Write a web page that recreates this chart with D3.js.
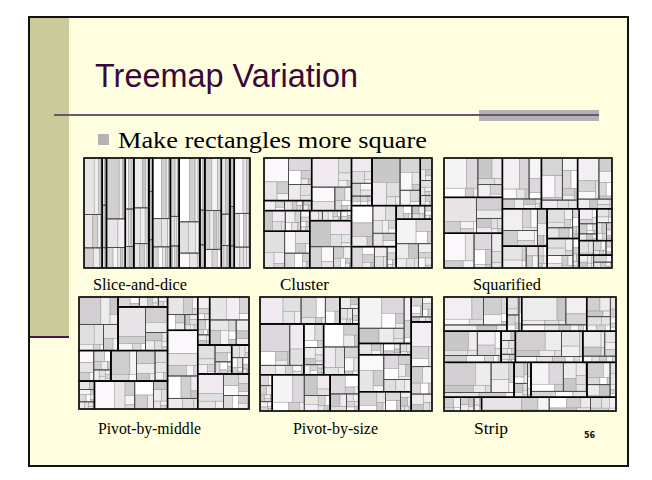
<!DOCTYPE html>
<html><head><meta charset="utf-8">
<script src="https://cdn.jsdelivr.net/npm/d3@7"></script>
<style>html,body{margin:0;padding:0;background:#fff;}svg{display:block;}</style>
</head><body>
<svg id="c" width="652" height="480"></svg>
<script>
// ---- data ----
const titleText = "Treemap Variation";
const bulletText = "Make rectangles more square";
const pageNumber = "56";
const panelNames = ["Slice-and-dice","Cluster","Squarified","Pivot-by-middle","Pivot-by-size","Strip"];
// three-level hierarchy: groups -> subgroups -> leaf sizes
const treeData = [
 [[60,25,14,8],[30,18,9,4,2],[20,12,6]],
 [[12,6,3],[8,5,3,2,1],[4,3,2]],
 [[80,20,10,6,3],[34,22],[14,9,7,5,3,2]],
 [[18,14,9,4],[12,7,6,5,3],[6,4,3,2,2,1,1]],
 [[45,16,12,5],[24,18,10,4],[15,12,6,3,2]],
 [[9,4],[6,5,3,2,2,1],[4,3,2,1,1]],
 [[55,30,14,9,4],[26,18,8],[12,9,7,5,3,2,1]],
 [[28,16,6,3],[12,8,7],[5,4,4,3,2,2]],
 [[70,35,20,8,4],[30,22,10,5],[16,12,4]],
 [[14,6,4,3],[8,4,3,2,1],[5,4,2,1]],
 [[38,30,16,6],[20,16,12,8,6,4],[14,10,8]],
 [[24,10,9,5,2],[13,11,4],[6,6,3,2,2,1]],
 [[10,7,3,2],[6,5,4,2,1],[4,3,2,1]],
 [[50,20,14,6],[18,15,10,8,4],[12,8,7,5,2]]
];
const leafShades = ["#e6e6e6","#f3eef3","#d6d6d6","#fbf8fb","#e8e4e8","#cfcfcf","#f4f4f4","#ddd8dd","#ffffff","#d2ced2","#ececec","#c8c8c8","#f0eaf0","#e0e0e0"];

// ---- custom tilings ----
const sumV = a => a.reduce((s,d)=>s+d.value,0);
function place(n,x0,y0,x1,y1){n.x0=x0;n.y0=y0;n.x1=x1;n.y1=y1;}
function pivotLayout(nodes,x0,y0,x1,y1,bySize){
  const n=nodes.length; if(!n) return;
  if(n===1){place(nodes[0],x0,y0,x1,y1);return;}
  const total=sumV(nodes);
  let p = Math.floor(n/2);
  if(bySize){p=0;nodes.forEach((d,i)=>{if(d.value>nodes[p].value)p=i;});}
  const L1=nodes.slice(0,p), P=nodes[p], rest=nodes.slice(p+1);
  const W=x1-x0,H=y1-y0,horiz=W>=H;
  const s1=sumV(L1);
  let rx0=x0, ry0=y0;
  if(horiz){rx0=x0+W*s1/total;pivotLayout(L1,x0,y0,rx0,y1,bySize);}
  else{ry0=y0+H*s1/total;pivotLayout(L1,x0,y0,x1,ry0,bySize);}
  const rt=total-s1, RW=x1-rx0, RH=y1-ry0;
  let bestK=0,bestA=Infinity;
  for(let k=0;k<=rest.length;k++){
    const sB=sumV(rest.slice(0,k)), frac=(P.value+sB)/rt;
    let a;
    if(horiz){const cw=RW*frac, ph=RH*P.value/(P.value+sB); a=Math.max(cw/ph,ph/cw);}
    else{const rh=RH*frac, pw=RW*P.value/(P.value+sB); a=Math.max(rh/pw,pw/rh);}
    if(a<bestA){bestA=a;bestK=k;}
  }
  const B=rest.slice(0,bestK), C=rest.slice(bestK), sB=sumV(B), frac=(P.value+sB)/rt;
  if(horiz){
    const cx=rx0+RW*frac, py=ry0+RH*P.value/(P.value+sB);
    place(P,rx0,ry0,cx,py); pivotLayout(B,rx0,py,cx,y1,bySize); pivotLayout(C,cx,ry0,x1,y1,bySize);
  } else {
    const cy=ry0+RH*frac, px=rx0+RW*P.value/(P.value+sB);
    place(P,rx0,ry0,px,cy); pivotLayout(B,px,ry0,x1,cy,bySize); pivotLayout(C,rx0,cy,x1,y1,bySize);
  }
}
const pivotMiddle=(parent,x0,y0,x1,y1)=>pivotLayout(parent.children,x0,y0,x1,y1,false);
const pivotSize=(parent,x0,y0,x1,y1)=>pivotLayout(parent.children,x0,y0,x1,y1,true);
function stripTile(parent,x0,y0,x1,y1){
  const nodes=parent.children,n=nodes.length,total=parent.value;
  const W=x1-x0,H=y1-y0,horiz=W>=H;
  const L=horiz?W:H, T=horiz?H:W;
  const avg=row=>{const s=sumV(row),t=T*s/total;return d3.mean(row,d=>{const l=L*d.value/s;return Math.max(l/t,t/l);});};
  let i=0,pos=horiz?y0:x0;
  while(i<n){
    let row=[nodes[i]],best=avg(row),j=i+1;
    while(j<n){const c=row.concat(nodes[j]),a=avg(c);if(a<=best){row=c;best=a;j++;}else break;}
    const s=sumV(row);
    const end = j>=n ? (horiz?y1:x1) : pos+T*s/total;
    let q=horiz?x0:y0;
    row.forEach((d,k)=>{const e=k===row.length-1?(horiz?x1:y1):q+L*d.value/s;
      if(horiz)place(d,q,pos,e,end);else place(d,pos,q,end,e);q=e;});
    pos=end;i=j;
  }
}

// ---- drawing ----
const svg=d3.select("#c");
svg.append("rect").attr("x",29).attr("y",17).attr("width",599).attr("height",449)
  .attr("fill","#ffffdf").attr("stroke","#111").attr("stroke-width",2);
svg.append("rect").attr("x",30).attr("y",18).attr("width",39).attr("height",318).attr("fill","#cbca9b");
svg.append("line").attr("x1",30).attr("x2",69).attr("y1",337).attr("y2",337).attr("stroke","#4a1745").attr("stroke-width",2);
svg.append("rect").attr("x",479).attr("y",110).attr("width",120).attr("height",11).attr("fill","#b3b3b3");
svg.append("line").attr("x1",54).attr("x2",599).attr("y1",115).attr("y2",115).attr("stroke","#6e5470").attr("stroke-width",2);
svg.append("text").attr("x",95).attr("y",87).attr("font-family","'Liberation Sans Narrow','Liberation Sans',Arial,sans-serif")
  .attr("font-size",34).attr("fill","#3a0838").attr("textLength",263).attr("lengthAdjust","spacingAndGlyphs").text(titleText);
svg.append("rect").attr("x",98).attr("y",134).attr("width",11).attr("height",11).attr("fill","#b3b3b3");
svg.append("text").attr("x",118).attr("y",148).attr("font-family","'Liberation Serif','Times New Roman',serif")
  .attr("font-size",23).attr("fill","#000").attr("textLength",309).attr("lengthAdjust","spacingAndGlyphs").text(bulletText);

const panels=[
 {x:84,y:158,w:166,h:110,tile:d3.treemapSliceDice,sort:false,lx:93,ly:290,lw:94},
 {x:264,y:158,w:168,h:110,tile:d3.treemapBinary,sort:false,lx:280,ly:290,lw:49},
 {x:444,y:158,w:168,h:110,tile:d3.treemapSquarify,sort:true,lx:473,ly:290,lw:68},
 {x:79,y:297,w:170,h:112,tile:pivotMiddle,sort:false,lx:98,ly:434,lw:103},
 {x:260,y:297,w:172,h:114,tile:pivotSize,sort:false,lx:293,ly:434,lw:85},
 {x:444,y:297,w:172,h:114,tile:stripTile,sort:false,lx:474,ly:434,lw:34}
];
const shade=d3.scaleOrdinal(leafShades);
panels.forEach((p,pi)=>{
  const root=d3.hierarchy({children:treeData.map(g=>({children:g.map(s=>({children:s.map(v=>({value:v}))}))}))})
    .sum(d=>d.value||0);
  if(p.sort) root.sort((a,b)=>b.value-a.value);
  d3.treemap().tile(p.tile).size([p.w,p.h]).round(false)(root);
  const g=svg.append("g").attr("transform",`translate(${p.x},${p.y})`);
  const leaves=root.leaves();
  g.selectAll("rect.leaf").data(leaves).join("rect").attr("class","leaf")
    .attr("x",d=>d.x0).attr("y",d=>d.y0).attr("width",d=>Math.max(0,d.x1-d.x0)).attr("height",d=>Math.max(0,d.y1-d.y0))
    .attr("fill",(d,i)=>shade((i*5+pi)%leafShades.length)).attr("stroke","#999").attr("stroke-width",0.5);
  g.selectAll("rect.sub").data(root.descendants().filter(d=>d.depth===2)).join("rect").attr("class","sub")
    .attr("x",d=>d.x0).attr("y",d=>d.y0).attr("width",d=>d.x1-d.x0).attr("height",d=>d.y1-d.y0)
    .attr("fill","none").attr("stroke","#444").attr("stroke-width",0.7);
  g.selectAll("rect.top").data(root.descendants().filter(d=>d.depth===1)).join("rect").attr("class","top")
    .attr("x",d=>d.x0).attr("y",d=>d.y0).attr("width",d=>d.x1-d.x0).attr("height",d=>d.y1-d.y0)
    .attr("fill","none").attr("stroke","#000").attr("stroke-width",1.4);
  g.append("rect").attr("width",p.w).attr("height",p.h).attr("fill","none").attr("stroke","#222").attr("stroke-width",1);
  svg.append("text").attr("x",p.lx).attr("y",p.ly).attr("font-family","'Liberation Serif','Times New Roman',serif")
    .attr("font-size",16).attr("fill","#000").attr("textLength",p.lw).attr("lengthAdjust","spacingAndGlyphs").text(panelNames[pi]);
});
svg.append("text").attr("x",584).attr("y",438).attr("font-family","'DejaVu Sans',sans-serif").attr("font-weight","bold")
  .attr("font-size",8).attr("fill","#111").text(pageNumber);
</script>
</body></html>
